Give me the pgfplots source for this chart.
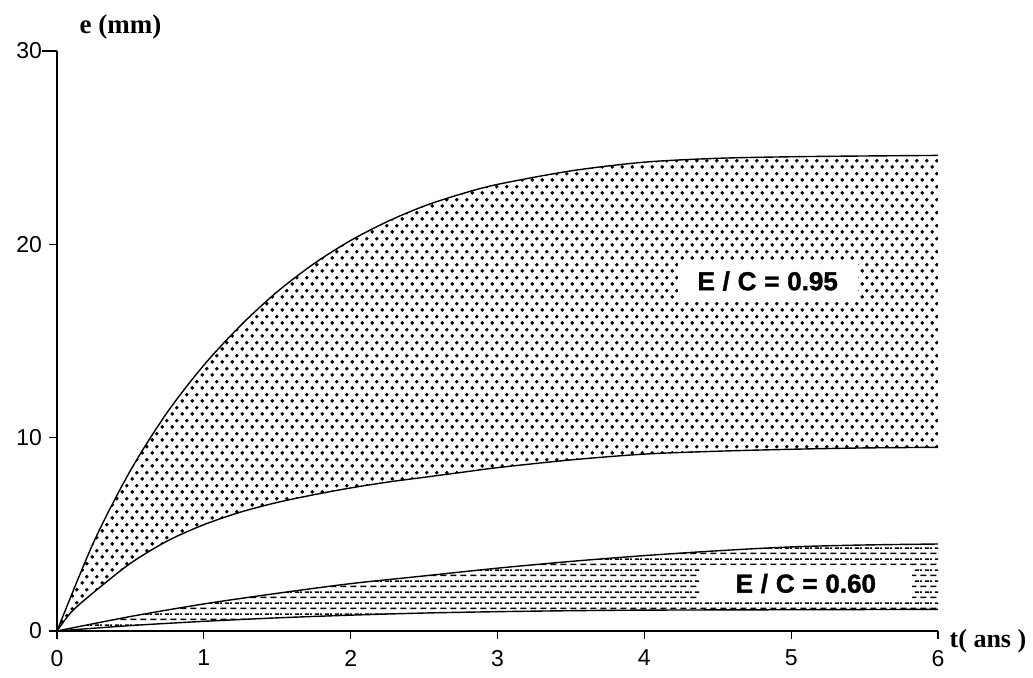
\documentclass[border=0pt]{standalone}
\usepackage{pgfplots}
\pgfplotsset{compat=1.18}
\usepgfplotslibrary{fillbetween}
\usetikzlibrary{patterns}
\usepackage{fontspec}
\setmainfont{Liberation Sans}
\newfontfamily\tnr{Liberation Serif}
\newfontfamily\heavy{Liberation Sans}[BoldFeatures={FakeBold=1.4}]

\pgfdeclarepatternformonly{scandots}{\pgfqpoint{0pt}{0pt}}{\pgfqpoint{5pt}{6.6pt}}{\pgfqpoint{5pt}{6.6pt}}{%
  \pgfpathcircle{\pgfqpoint{1.25pt}{1.65pt}}{1.05pt}%
  \pgfpathcircle{\pgfqpoint{3.75pt}{4.95pt}}{1.05pt}%
  \pgfusepath{fill}}

\pgfdeclarepatternformonly{scandashes}{\pgfqpoint{0pt}{0pt}}{\pgfqpoint{5pt}{5.6pt}}{\pgfqpoint{5pt}{5.6pt}}{%
  \pgfsetlinewidth{0.9pt}%
  \pgfpathmoveto{\pgfqpoint{0.2pt}{1.4pt}}\pgfpathlineto{\pgfqpoint{3.5pt}{1.4pt}}%
  \pgfpathmoveto{\pgfqpoint{2.7pt}{4.2pt}}\pgfpathlineto{\pgfqpoint{5pt}{4.2pt}}%
  \pgfpathmoveto{\pgfqpoint{0pt}{4.2pt}}\pgfpathlineto{\pgfqpoint{1pt}{4.2pt}}%
  \pgfusepath{stroke}}

\pgfplotstableread{
t e
0 0
0.25 4.6
0.5 8.3
0.75 11.3
1.0 13.75
1.25 15.8
1.5 17.55
1.75 19.0
2.0 20.2
2.25 21.18
2.5 21.98
2.75 22.6
3.0 23.1
3.5 23.8
4.0 24.25
4.5 24.45
5.0 24.53
5.5 24.57
6.0 24.6
}\hiA
\pgfplotstableread{
t e
0 0
0.1 1.0
0.25 2.0
0.5 3.5
0.75 4.65
1.0 5.5
1.25 6.15
1.5 6.65
1.75 7.05
2.0 7.4
2.25 7.7
2.5 7.95
2.75 8.2
3.0 8.45
3.5 8.85
4.0 9.15
4.5 9.3
5.0 9.4
5.5 9.47
6.0 9.5
}\loA
\pgfplotstableread{
t e
0 0
0.5 0.75
1.0 1.4
1.5 1.95
2.0 2.45
2.5 2.85
3.0 3.25
3.5 3.6
4.0 3.9
4.5 4.15
5.0 4.35
5.5 4.45
6.0 4.5
}\hiB
\pgfplotstableread{
t e
0 0
0.5 0.28
1.0 0.5
1.5 0.68
2.0 0.82
2.5 0.93
3.0 1.0
3.5 1.05
4.0 1.08
5.0 1.1
6.0 1.12
}\loB

\begin{document}
\begin{tikzpicture}
\begin{axis}[
  at={(0,0)}, anchor=south west,
  scale only axis, width=440.5pt, height=290pt,
  xmin=0, xmax=6, ymin=0, ymax=30,
  axis x line=bottom, axis y line=left,
  axis line style={-, line width=0.6pt},
  xtick={0,1,2,3,4,5,6}, ytick={0,10,20,30},
  tick align=outside, major tick length=4pt,
  tick style={black, line width=0.6pt},
  every major y tick/.append style={shorten <=-3.5pt},
  ticklabel style={font=\fontsize{11.5}{13}\selectfont},
  xticklabel style={yshift=-2pt},
  /pgf/number format/assume math mode=true,
  clip=false,
]
\addplot[name path=A, black, line width=0.7pt, smooth] table[x=t,y=e] {\hiA};
\addplot[name path=B, black, line width=0.7pt, smooth] table[x=t,y=e] {\loA};
\addplot[name path=C, black, line width=0.7pt, smooth] table[x=t,y=e] {\hiB};
\addplot[name path=D, black, line width=0.7pt, smooth] table[x=t,y=e] {\loB};
\addplot[pattern=scandots, draw=none] fill between[of=A and B];
\addplot[pattern=scandashes, draw=none] fill between[of=C and D];
\node[fill=white, inner sep=0pt, minimum width=90pt, minimum height=21pt,
  font=\heavy\bfseries\fontsize{13}{15}\selectfont] at (axis cs:4.84,18.1)
  {E\hspace{.3em}/\hspace{.3em}C\hspace{.3em}=\hspace{.3em}0.95};
\node[fill=white, inner sep=0pt, minimum width=106pt, minimum height=18.5pt,
  font=\heavy\bfseries\fontsize{13}{15}\selectfont] at (axis cs:5.10,2.46)
  {E\hspace{.3em}/\hspace{.3em}C\hspace{.3em}=\hspace{.3em}0.60};
\end{axis}
\node[font=\tnr\bfseries\fontsize{13.5}{15}\selectfont] at (31.75pt,302pt) {e (mm)};
\node[font=\tnr\bfseries\fontsize{13}{15}\selectfont] at (465.5pt,-5pt) {t( ans )};
\pgfresetboundingbox
\useasboundingbox (-28.5pt,-23pt) rectangle (488pt,315.5pt);
\end{tikzpicture}
\end{document}
